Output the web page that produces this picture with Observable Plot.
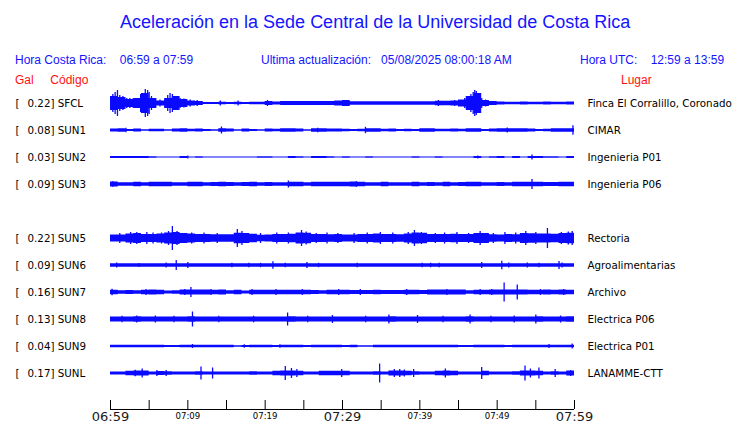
<!DOCTYPE html>
<html><head><meta charset="utf-8">
<script src="https://cdn.jsdelivr.net/npm/d3@7"></script>
<script src="https://cdn.jsdelivr.net/npm/@observablehq/plot@0.6"></script>
<style>
body{margin:0;background:#fff;}
#wrap{position:relative;width:740px;height:423px;overflow:hidden;background:#fff;font-family:"Liberation Sans",Arial,sans-serif;}
.h{position:absolute;white-space:pre;line-height:1;}
#chart{position:absolute;left:0;top:0;}
.blue{color:#1414ff;}
.red{color:#ff1010;}
</style></head><body>
<div id="wrap">
<div id="chart"></div>
<div class="h blue" style="left:120px;top:13px;font-size:18px;">Aceleración en la Sede Central de la Universidad de Costa Rica</div>
<div class="h blue" style="left:15px;top:54px;font-size:12px;">Hora Costa Rica:    06:59 a 07:59</div>
<div class="h blue" style="left:261px;top:54px;font-size:12px;">Ultima actualización:   05/08/2025 08:00:18 AM</div>
<div class="h blue" style="left:580px;top:54px;font-size:12px;">Hora UTC:    12:59 a 13:59</div>
<div class="h red" style="left:15px;top:74px;font-size:12px;">Gal     Código</div>
<div class="h red" style="left:621px;top:74px;font-size:12px;">Lugar</div>
</div>
<script>
// Stations (row 4 = empty slot SUN4)
const codes  = ["SFCL","SUN1","SUN2","SUN3","SUN5","SUN6","SUN7","SUN8","SUN9","SUNL"];
const gals   = ["0.22","0.08","0.03","0.09","0.22","0.09","0.16","0.13","0.04","0.17"];
const places = ["Finca El Corralillo, Coronado","CIMAR","Ingenieria P01","Ingenieria P06","Rectoria","Agroalimentarias","Archivo","Electrica P06","Electrica P01","LANAMME-CTT"];
const rows   = [0,1,2,3,5,6,7,8,9,10];

// time axis (minutes after 06:59)
const tickMinutes = [0,5,10,15,20,25,30,35,40,45,50,55,60];
const labelMinutes = [0,10,20,30,40,50,60];
const tickLabels = ["06:59","07:09","07:19","07:29","07:39","07:49","07:59"];
const majorMinutes = [0,30,60];

// envelope half-amplitude per minute (trace units)
const bandSFCL = [7,6,4,5,10,5,2.5,5,7,4, 2.5,2,1,1,1.2,1,1.3,1,1.2,1.2, 2,1.5,2,2,2,2,2,2,2,2.5, 3,1.7,1.7,1.8,1.7,1.8,1.7,1.7,1.8,1.7, 1.8,1.8,2.2,2.2,2.5,3.5,7,10,3,2, 1.5,1.2,1.3,1.5,1.2,1.3,1.5,1.3,1.3,1.5];
const bandSUN1 = [1.5,1.8,1.0,1.5,0.7,1.3,1.3,0.7,1.5,1.8, 1.3,1.5,1.0,0.7,1.8,1.5,0.7,1.5,1.0,0.7, 1.5,1.2,1.8,1.8,1.5,0.7,1.8,1.8,1.5,1.5, 1.2,1.0,1.2,1.8,1.8,1.2,1.5,1.0,1.3,1.0, 1.8,1.8,1.2,1.3,1.5,1.2,1.8,1.8,1.0,1.5, 1.8,1.8,1.8,1.8,1.5,0.9,1.3,1.8,1.8,1.8];
const bandSUN2 = [1,0.9,0.9,0.9,0.9,0.8,0.5,0.5,0.5,0.9, 0.5,0.8,0.5,0.5,0.5,0.5,0.5,0.5,0.5,0.8, 0.8,0.5,0.5,0.9,0.8,0.5,0.9,0.9,0.8,0.5, 0.8,0.5,0.5,0.8,0.5,0.5,0.5,0.5,0.5,0.8, 0.5,0.5,0.8,0.5,0.5,0.5,0.5,0.9,0.5,0.8, 0.9,0.5,0.9,0.5,1.0,0.9,0.8,0.8,0.5,0.9];
const bandSUN3 = [2.4,1.7,1.8,2.3,1.8,2.3,2.2,2.2,1.7,1.7, 2.2,2.2,1.7,2,2.2,2,1.7,2,2.2,1.7, 2.1,1.7,1.7,2.3,2.2,1.7,2.2,2.2,2.2,2.2, 2.3,2.4,2.2,1.7,1.7,2.3,1.7,1.7,1.7,2.2, 1.7,2.1,1.7,2.2,1.7,2.1,2.2,2.2,1.7,1.7, 2.1,1.7,2.2,2.2,2.3,2.2,2,2.1,2.2,2.3];
const bandSUN5 = [3.5,3.5,4.5,5,4,4,4.5,5.5,6,5, 4.5,4,4,3.7,3.8,3.8,5.2,5,4.3,3.2, 3.5,4,4,4.2,5.5,5.2,4,4,3.8,4, 3.5,3.5,4,4,4.5,4,4,3.8,4.5,5.5, 5.3,4,4,4,4.3,4,4,5,5,3.7, 3.5,4,3.8,5,4.8,4.5,4.5,4.3,5,5.3];
const bandSUN6 = [1.7,1.7,1.7,1.7,1.7,1.7,1.7,1.7,1.7,1.7, 1.7,1.7,1.7,1.7,1.7,1.7,1.7,1.7,1.7,1.7, 1.7,1.7,1.7,1.7,1.7,1.7,1.7,1.7,1.7,1.7, 1.7,1.7,1.7,1.7,1.7,1.7,1.7,1.7,1.7,1.7, 1.7,1.7,1.7,1.7,1.7,1.7,1.7,1.7,1.7,1.7, 1.7,1.7,1.7,1.7,1.7,1.7,1.7,1.7,1.7,1.7];
const bandSUN7 = [2.2,1.8,2,1.8,2.3,2.5,2.2,1.6,1.8,2.4, 2.5,2.4,2.4,2.3,2.4,1.7,2.2,1.6,2.3,2.3, 2.3,2.2,2.3,2.2,2.3,2.2,2,1.7,2.2,2.3, 2.3,2,2,2,2.2,2.1,2,2.1,2.3,2.3, 2.1,2.4,2.5,2.4,2.5,2.4,1.8,2.3,2.2,2.4, 2.6,2.5,2.5,2.4,2.2,2.2,2.4,2.3,2.4,2.3];
const bandSUN8 = [2.6,2.5,2.5,2.7,2.5,2.6,2.5,2.4,2.5,2.6, 2.7,2.6,2.5,2.5,2.6,2.5,2.5,2.4,2.6,2.5, 2.5,2.5,2.6,2.7,2.5,2.5,2.6,2.5,2.6,2.6, 2.5,2.5,2.6,2.6,2.5,2.6,2.7,2.5,2.5,2.6, 2.5,2.5,2.6,2.6,2.5,2.6,2.7,2.5,2.5,2.6, 2.5,2.6,2.6,2.5,2.6,2.7,2.5,2.6,2.6,2.7];
const bandSUN9 = [1.3,1.3,1.3,1.3,1.3,1.3,1.3,0.9,1.1,1.3, 1.3,1.3,1.3,1.3,1.3,1.3,0.8,1.1,1.3,1.3, 1.3,0.9,1.3,1.3,1.3,1.0,1.3,1.3,1.3,1.3, 1.0,1.3,0.8,0.8,1.3,1.3,1.3,1.3,1.3,1.3, 1.3,1.3,1.3,1.3,1.3,0.9,1.1,1.3,1.3,1.3, 1.3,1.0,1.3,1.3,1.3,1.3,1.3,1.3,1.3,1.3];
const bandSUNL = [1.6,1.6,2.2,2.6,2.6,1.6,2,1.8,1.5,1.5, 1.5,1.8,1.5,1.5,1.5,1.5,1.5,1.5,1.8,1.5, 1.5,2.2,2.6,2.4,2.2,1.6,1.6,2.3,2.2,2.3, 2.2,1.5,1.5,1.6,1.8,1.6,2.5,2.6,2.3,1.8, 1.6,1.6,2.2,2.4,2.2,1.5,1.6,1.5,2.2,1.6, 1.6,1.5,1.8,2.6,2.5,2.3,1.6,1.8,1.6,2.6];

// peaks: [minute, half-amplitude]
const spikesSFCL = [[0.3,9],[0.6,11],[0.9,13],[1.2,8],[1.6,7],[2.1,5],[2.5,5],[2.9,4.5],[3.9,9],[4.2,10],[4.5,14],[4.8,13],[5.0,11],[5.3,7],[5.8,4],[6.4,3.5],[7.4,8],[7.7,10],[8.0,9],[8.4,7],[8.7,6],[9.0,5],[9.5,4.5],[10.3,3.5],[11.2,3],[14.2,2.5],[16.5,2.5],[20.3,3],[42.4,3],[44.5,3],[45.8,5],[46.3,7],[46.6,9],[46.9,11],[47.1,13],[47.3,12],[47.6,8],[48.0,5],[48.5,3.5]];
const spikesSUN1 = [[14.35,3.5],[32.97,3.2],[51.3,2.5],[59.8,4.7],[2.0,2.3],[26.8,2.3]];
const spikesSUN2 = [[54.5,2.5],[10.0,1.5],[47.5,1.5]];
const spikesSUN3 = [[23.0,3.5],[54.5,5],[0.3,2.8],[31.8,2.8]];
const spikesSUN5 = [[8.0,12],[16.4,9],[24.7,8],[2.6,6],[4.7,6],[5.5,5.5],[10.5,5.5],[39.3,8],[47.8,7],[56.5,10],[53.7,7],[59.7,7],[34.9,6],[44.8,6],[21.5,5.5],[28.0,5.5],[36.5,5.5],[51.0,6],[1.2,5],[3.4,6],[6.6,5.5],[7.5,7],[8.6,7],[12.1,5.5],[13.8,5],[17.0,7],[19.4,5],[23.0,5.5],[25.3,6.5],[26.6,5],[29.4,5],[31.5,5],[33.2,5.5],[38.5,6],[40.2,6],[42.0,5],[43.2,5.5],[46.3,5],[49.5,5],[52.4,5.5],[55.0,6],[58.3,6],[59.2,6.5]];
const spikesSUN6 = [[0.8,2.5],[3.7,2],[7.2,2.5],[8.5,5],[10,3],[15.7,2.2],[17.9,2.2],[19.4,2.2],[21,3.7],[22.6,2.3],[25.4,3],[26.9,2.2],[31.9,2.2],[40.3,2.2],[41.4,2.2],[42.5,2.2],[48,3],[50.6,4.3],[51.5,2.5],[53.9,2.5],[55.4,2.2],[58,4],[58.4,2.5]];
const spikesSUN7 = [[0.2,3.2],[10.4,5],[18.3,3],[24.8,3],[32.3,3],[38.3,3],[47.8,3],[49.3,3],[50.9,9.5],[52.6,7.5],[55.6,3],[58.6,3],[13.0,3],[29.5,3],[4.6,3],[9.6,3],[21.4,3],[43.5,3]];
const spikesSUN8 = [[10.6,7.5],[22.9,6.5],[3.4,3.5],[5.8,3.5],[28.7,4],[36,4.5],[39.7,4],[46.5,4.5],[55,4.5],[52.2,3.5],[58.2,3.5],[14.0,3.3],[18.5,3.3],[33,3.3],[43,3.3],[1.5,3.3],[8.2,3.3],[25.5,3.3],[49.2,3.3]];
const spikesSUN9 = [[10.6,2],[56.7,2],[59.7,2.5],[17.3,1.8],[21.9,1.8]];
const spikesSUNL = [[4.1,4.5],[3.2,3.2],[6.0,3],[7.2,3],[11.7,6.5],[13.2,5.5],[22.6,7],[23.4,5],[24.1,4],[29.9,4],[34.8,9.5],[36.7,4],[37.4,4],[38,3.5],[39.2,4],[43.3,4.5],[48,6],[53.6,7.5],[54.3,4.5],[55.4,5.5],[57.5,4],[59.5,3]];

const bands  = [bandSFCL,bandSUN1,bandSUN2,bandSUN3,bandSUN5,bandSUN6,bandSUN7,bandSUN8,bandSUN9,bandSUNL];
const spikes = [spikesSFCL,spikesSUN1,spikesSUN2,spikesSUN3,spikesSUN5,spikesSUN6,spikesSUN7,spikesSUN8,spikesSUN9,spikesSUNL];

const gain = 1/27; // trace units per row
const stations = codes.map((c,i)=>({code:c, gal:gals[i], place:places[i], row:rows[i]}));
const envelope = [];
codes.forEach((c,i)=>{
  bands[i].forEach((a,m)=>envelope.push({code:c,row:rows[i],m,a}));
  envelope.push({code:c,row:rows[i],m:60,a:bands[i][59]});
});
const peaks = [];
codes.forEach((c,i)=>spikes[i].forEach(([m,a])=>peaks.push({code:c,row:rows[i],m,a})));

const blue = "#0a0aff";
const yMax = 11.3333;
const chart = Plot.plot({
  width:740, height:423,
  marginLeft:110, marginRight:166, marginTop:76, marginBottom:14,
  x:{domain:[0,60], axis:null},
  y:{domain:[-1,yMax], reverse:true, axis:null},
  style:{fontFamily:"DejaVu Sans", background:"transparent", overflow:"visible", color:"#000"},
  marks:[
    Plot.areaY(envelope,{x:"m", y1:d=>d.row-d.a*gain, y2:d=>d.row+d.a*gain, z:"code", fill:blue, curve:"step-after"}),
    Plot.ruleX(peaks,{x:"m", y1:d=>d.row-d.a*gain, y2:d=>d.row+d.a*gain, stroke:blue, strokeWidth:1.3}),
    Plot.text(stations,{y:"row", frameAnchor:"left", dx:-95, text:()=>"[", textAnchor:"start", fontSize:10.3, fill:"#000"}),
    Plot.text(stations,{y:"row", frameAnchor:"left", dx:-83, text:d=>`${d.gal}] ${d.code}`, textAnchor:"start", fontSize:10.3, fill:"#000"}),
    Plot.text(stations,{y:"row", frameAnchor:"right", dx:13, text:"place", textAnchor:"start", fontSize:10.3, fill:"#000"}),
    Plot.ruleY([yMax],{stroke:"#000", strokeWidth:1}),
    Plot.ruleX(tickMinutes,{x:d=>d, insetTop:333-9, stroke:"#000", strokeWidth:1}),
    Plot.axisX(labelMinutes.filter(m=>!majorMinutes.includes(m)),{tickSize:0, tickPadding:3.5, tickFormat:m=>tickLabels[labelMinutes.indexOf(m)], fontSize:8.6, fontFamily:"DejaVu Sans", fill:"#000", label:null}),
    Plot.axisX(majorMinutes,{tickSize:0, tickPadding:2.5, tickFormat:m=>tickLabels[labelMinutes.indexOf(m)], fontSize:13, fontFamily:"DejaVu Sans", fill:"#1a1a1a", label:null})
  ]
});
document.getElementById("chart").appendChild(chart);
</script>
</body></html>
